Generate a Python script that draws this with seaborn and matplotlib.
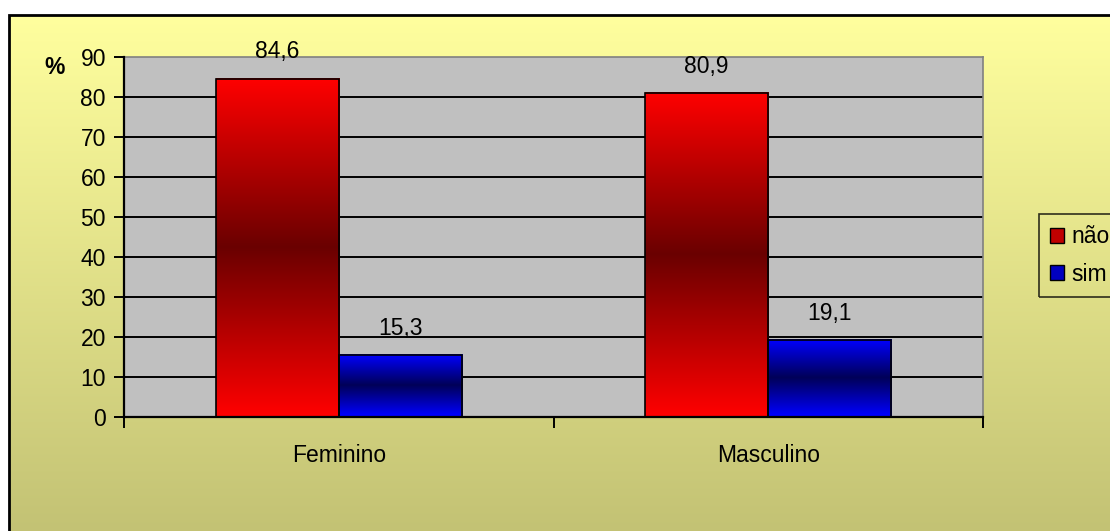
import numpy as np
import pandas as pd
import matplotlib
matplotlib.use("Agg")
import matplotlib.pyplot as plt
from matplotlib.patches import Rectangle, Patch
from matplotlib.colors import to_rgb
import seaborn as sns

# Data
categorias = ["Feminino", "Masculino"]
respostas = ["não", "sim"]
nao_vals = [84.6, 80.9]
sim_vals = [15.3, 19.1]
yticks = [0, 10, 20, 30, 40, 50, 60, 70, 80, 90]

df = pd.DataFrame({
    "sexo": categorias * 2,
    "resposta": [respostas[0]] * 2 + [respostas[1]] * 2,
    "valor": nao_vals + sim_vals,
})

sns.set_style("white")
plt.rcParams["font.family"] = ["Liberation Sans", "DejaVu Sans"]
plt.rcParams["text.color"] = "black"
plt.rcParams["xtick.color"] = "black"
plt.rcParams["ytick.color"] = "black"
plt.rcParams["xtick.labelcolor"] = "black"
plt.rcParams["ytick.labelcolor"] = "black"

FS = 16.5

W, H = 1110, 531
fig = plt.figure(figsize=(W / 100, H / 100), dpi=100)
fig.patch.set_facecolor("white")

# Yellow-to-olive gradient background inside the chart frame
bg = fig.add_axes([0, 0, 1, 1], zorder=-10)
bg.axis("off")
top_c = np.array(to_rgb("#FFFF9E"))
bot_c = np.array(to_rgb("#C0BF72"))
t = np.linspace(0, 1, 256)[:, None]
grad = (top_c * (1 - t) + bot_c * t)[:, None, :]
frame_top = 1 - 15 / H
frame_left = 9 / W
bg.imshow(grad, extent=[frame_left, 1.05, -0.05, frame_top], aspect="auto", origin="upper")
bg.add_patch(Rectangle((frame_left, -0.05), 1.2, frame_top + 0.05, fill=False,
                       edgecolor="black", linewidth=2))
bg.set_xlim(0, 1)
bg.set_ylim(0, 1)

# Main plot
ax = fig.add_axes([124 / W, 1 - 416.5 / H, (983 - 124) / W, (416.5 - 57) / H])
ax.set_facecolor("#C0C0C0")

palette = {"não": "#FF0000", "sim": "#0000FF"}
sns.barplot(data=df, x="sexo", y="valor", hue="resposta", order=categorias,
            hue_order=respostas, palette=palette, width=0.573, edgecolor="black",
            linewidth=1.2, saturation=1, ax=ax, zorder=3)

ax.set_ylim(0, 90)
ax.set_xlim(-0.5, 1.5)

# Vertical gradient fill for each bar: bright at the ends, dark in the middle
dark = {"#FF0000": "#6A0000", "#0000FF": "#000058"}
for p in list(ax.patches):
    fc = matplotlib.colors.to_hex(p.get_facecolor()[:3]).upper()
    x0, y0 = p.get_x(), p.get_y()
    w, h = p.get_width(), p.get_height()
    if h <= 0:
        continue
    c1 = np.array(to_rgb(fc))
    c2 = np.array(to_rgb(dark[fc]))
    s = np.linspace(-1, 1, 256)[:, None]
    m = np.abs(s)
    g = (c2 * (1 - m) + c1 * m)[:, None, :]
    ax.imshow(g, extent=[x0, x0 + w, y0, y0 + h], aspect="auto", zorder=3.5,
              origin="upper")
    p.set_facecolor("none")
    p.set_zorder(4)

ax.set_xlim(-0.5, 1.5)
ax.set_ylim(0, 90)
ax.set_aspect("auto")

# Value labels
for p in ax.patches:
    h = p.get_height()
    if h <= 0:
        continue
    ax.annotate(f"{h:.1f}".replace(".", ","), (p.get_x() + p.get_width() / 2, h),
                xytext=(0, 11), textcoords="offset points", ha="center", va="bottom",
                fontsize=FS, color="black", zorder=6)

# Horizontal gridlines
for v in yticks[1:-1]:
    ax.axhline(v, color="black", linewidth=1.4, zorder=2)

ax.set_yticks(yticks)
ax.set_xticks([0, 1])
ax.set_xticklabels(categorias)
ax.set_xticks([-0.5, 0.5, 1.5], minor=True)
ax.tick_params(axis="x", which="major", length=0, pad=20, labelsize=FS)
ax.tick_params(axis="x", which="minor", length=8, width=1.4, color="black",
               direction="out", bottom=True)
ax.tick_params(axis="y", length=7, width=1.4, color="black", direction="out",
               left=True, pad=6, labelsize=FS)
ax.set_xlabel("")
ax.set_ylabel("")

for side in ["left", "bottom"]:
    ax.spines[side].set_color("black")
    ax.spines[side].set_linewidth(1.6)
    ax.spines[side].set_zorder(5)
for side in ["top", "right"]:
    ax.spines[side].set_color("#808080")
    ax.spines[side].set_linewidth(1.2)

fig.text(55 / W, 1 - 68 / H, "%", fontsize=FS, fontweight="bold", ha="center",
         va="center")

# Legend
if ax.get_legend() is not None:
    ax.get_legend().remove()
handles = [Patch(facecolor="#C00000", edgecolor="black", linewidth=1.0, label="não"),
           Patch(facecolor="#0000C0", edgecolor="black", linewidth=1.0, label="sim")]
leg = fig.legend(handles=handles, loc="upper left",
                 bbox_to_anchor=(1039 / W, 1 - 214 / H), frameon=True, fontsize=FS,
                 handlelength=0.6, handleheight=0.6, handletextpad=0.3,
                 labelspacing=0.62, borderpad=0.5, borderaxespad=0, fancybox=False)
leg.get_frame().set_edgecolor("black")
leg.get_frame().set_facecolor("none")
leg.get_frame().set_linewidth(1.2)

fig.savefig("out.png", dpi=100)
